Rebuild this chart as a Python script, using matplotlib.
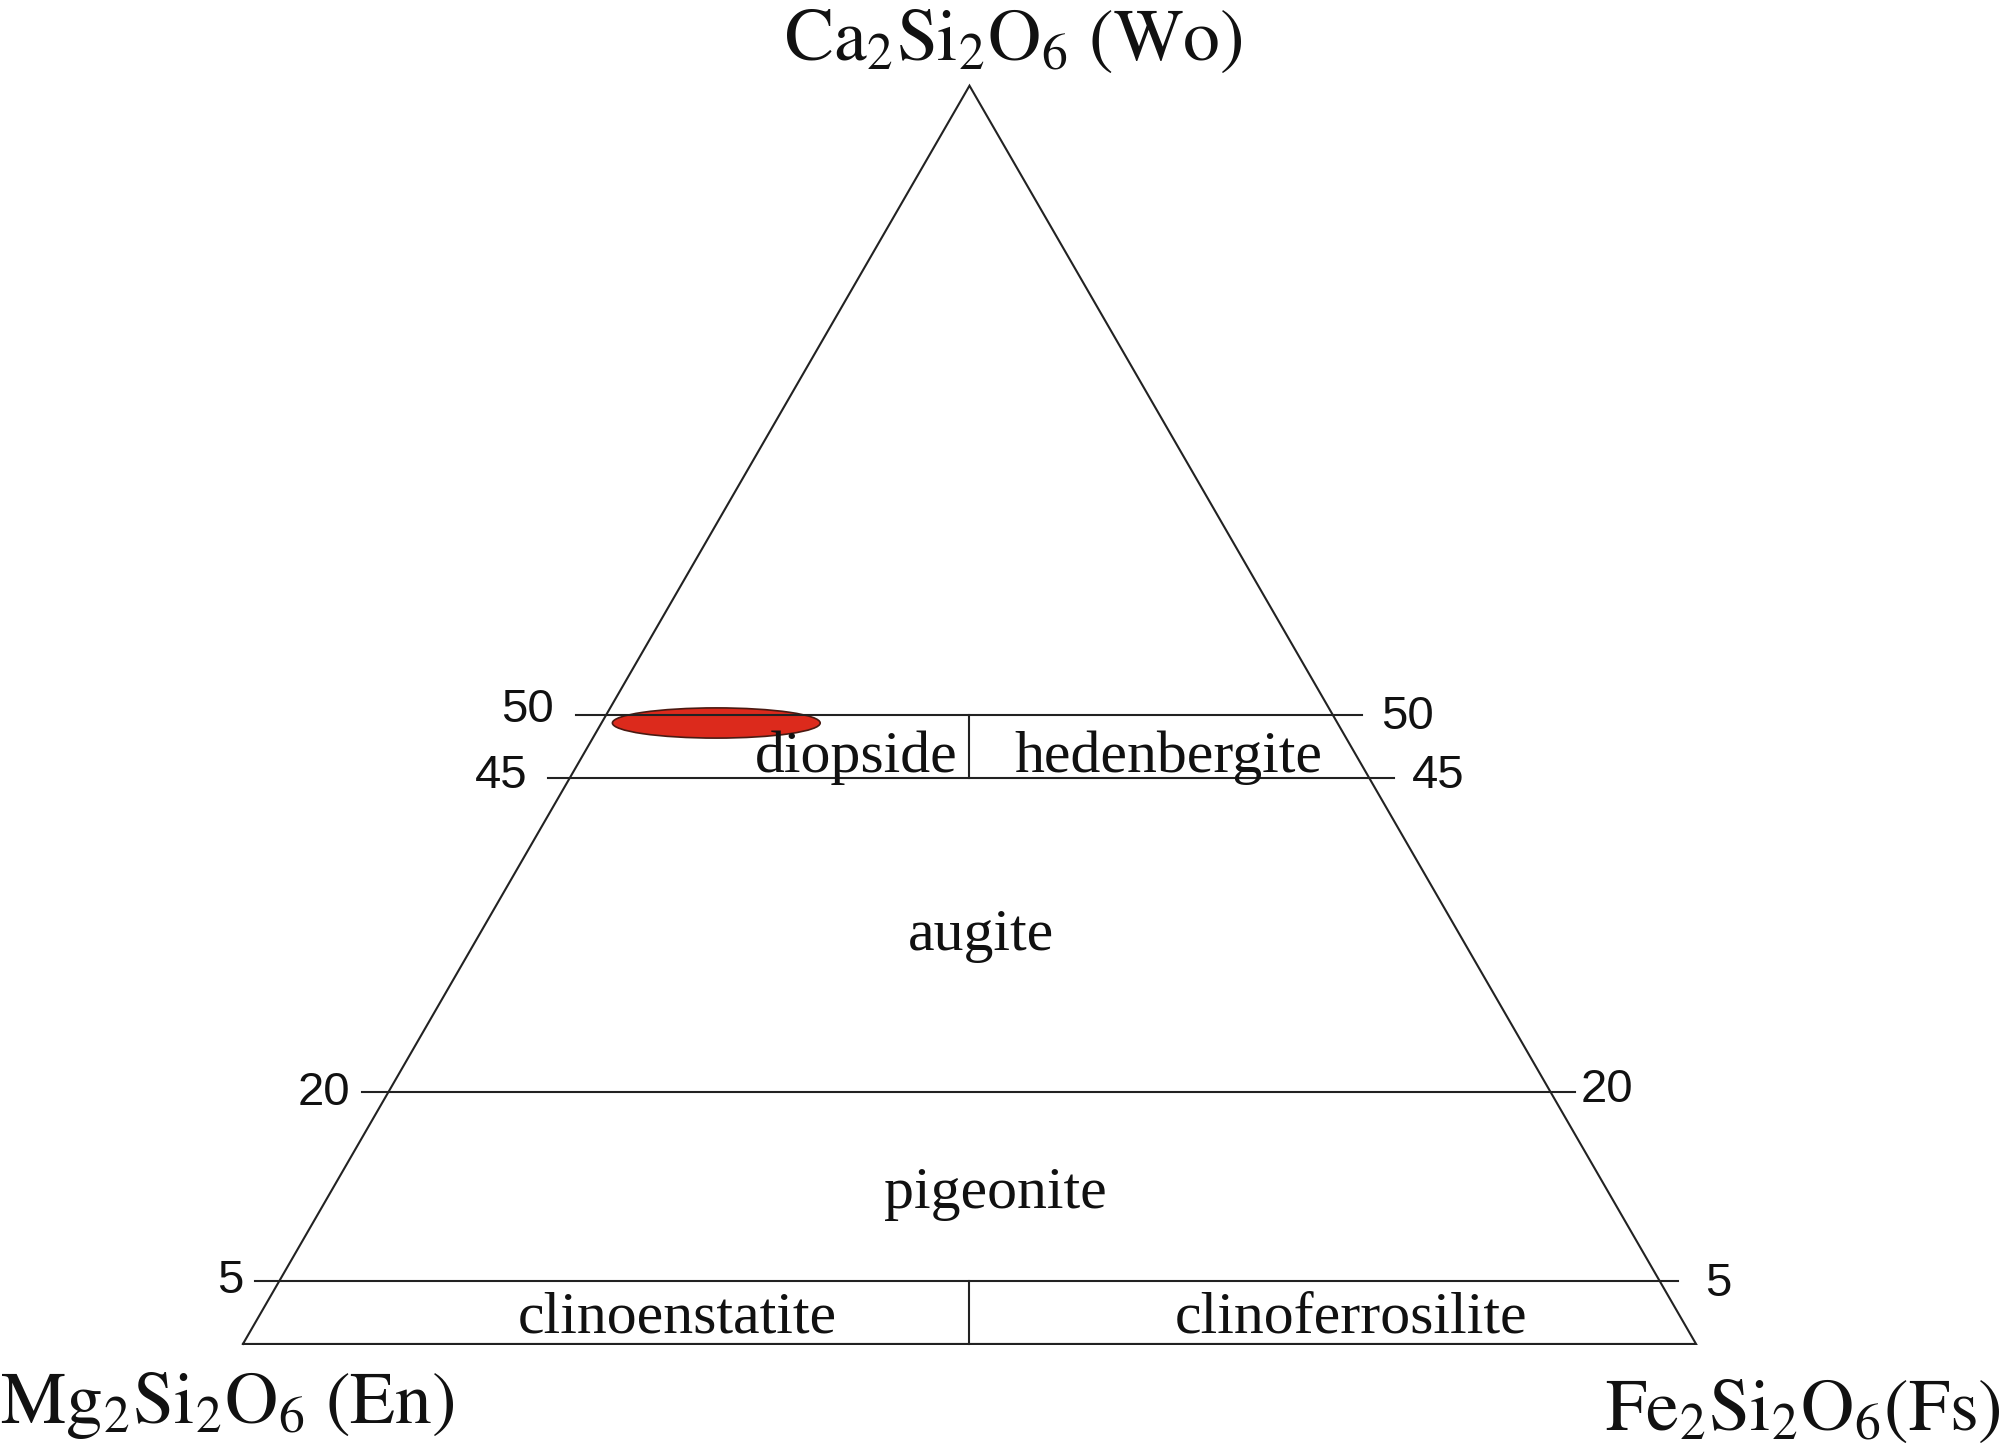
import numpy as np
import matplotlib
matplotlib.use("Agg")
import matplotlib.pyplot as plt
from matplotlib.patches import Ellipse

# ---------------- data ----------------
wo_levels = [50, 45, 20, 5]                 # Wo (%) boundary lines
level_labels = ["50", "45", "20", "5"]
dividers = [(45, 50), (0, 5)]               # Wo ranges of En=Fs dividers
field_names = ["diopside", "hedenbergite", "augite", "pigeonite",
               "clinoenstatite", "clinoferrosilite"]
corner_labels = [r"$\mathrm{Ca_2Si_2O_6\ (Wo)}$",
                 r"$\mathrm{Mg_2Si_2O_6\ (En)}$",
                 r"$\mathrm{Fe_2Si_2O_6(Fs)}$"]
# analysed composition field (ternary): Wo centre, Fs centre, Fs span, Wo span
ell_wo, ell_fs, ell_fs_span, ell_wo_span = 49.35, 7.9, 14.3, 2.4

H = np.sqrt(3) / 2
PX = 1.0 / 1453.0   # data units per pixel

# style: per-level tick extension and label gap (pixels)
ext_left = [30, 22, 26, 24]
ext_right = [29, 25, 24, 18]
gap_left = [22, 20, 12, 12]
gap_right = [19, 18, 6, 27]
dy_left = [5, 2, -1, 0]
dy_right = [-2, 2, 2, -3]


def tern(wo, fs):
    """Wo, Fs in % -> cartesian (En at left, Fs at right, Wo top)."""
    return fs / 100 + wo / 200, wo / 100 * H


plt.rcParams["mathtext.fontset"] = "stix"
fig = plt.figure(figsize=(20.08, 14.49), dpi=100)
ax = fig.add_axes([0, 0, 1, 1])
ax.set_xlim(-0.1672, 1.2147)
ax.set_ylim(-0.0723, 0.925)
ax.axis("off")

lc = "#222222"
lw = 1.5
serif = "Liberation Serif"
sans = "Liberation Sans"

# triangle
tx = [tern(0, 0)[0], tern(0, 100)[0], tern(100, 0)[0], tern(0, 0)[0]]
ty = [tern(0, 0)[1], tern(0, 100)[1], tern(100, 0)[1], tern(0, 0)[1]]
ax.plot(tx, ty, color=lc, lw=lw, solid_joinstyle="miter", zorder=3)

# horizontal boundaries with ticks outside
for i, (wo, lab) in enumerate(zip(wo_levels, level_labels)):
    xl, y = tern(wo, 0)
    xr, _ = tern(wo, 100 - wo)
    x0 = xl - ext_left[i] * PX
    x1 = xr + ext_right[i] * PX
    ax.plot([x0, x1], [y, y], color=lc, lw=lw, zorder=3)
    ax.text(x0 - gap_left[i] * PX, y + dy_left[i] * PX, lab, ha="right",
            va="center", fontsize=34, family=sans, color="#111111")
    ax.text(x1 + gap_right[i] * PX, y + dy_right[i] * PX, lab, ha="left",
            va="center", fontsize=34, family=sans, color="#111111")

# dividers
for w0, w1 in dividers:
    x0, y0 = tern(w0, 50 - w0 / 2)
    x1, y1 = tern(w1, 50 - w1 / 2)
    ax.plot([x0, x1], [y0, y1], color=lc, lw=lw, zorder=3)

# composition ellipse
ex, ey = tern(ell_wo, ell_fs)
ax.add_patch(Ellipse((ex, ey), ell_fs_span / 100, ell_wo_span / 100 * H,
                     facecolor="#dc2a1c", edgecolor="#4a1a12", lw=1.2,
                     zorder=2))

# field names
fs_kw = dict(fontsize=43, family=serif, color="#111111", va="baseline")
ax.text(0.492, 0.394, field_names[0], ha="right", **fs_kw)
ax.text(0.531, 0.394, field_names[1], ha="left", **fs_kw)
ax.text(0.508, 0.271, field_names[2], ha="center", **fs_kw)
ax.text(0.518, 0.0936, field_names[3], ha="center", **fs_kw)
ax.text(0.299, 0.0076, field_names[4], ha="center", **fs_kw)
ax.text(0.7626, 0.0076, field_names[5], ha="center", **fs_kw)

# corner labels
cl_kw = dict(fontsize=53, color="#111111", va="baseline", ha="left")
ax.text(0.3723, 0.8837, corner_labels[0], **cl_kw)
ax.text(-0.1672, -0.0544, corner_labels[1], **cl_kw)
ax.text(0.9374, -0.0592, corner_labels[2], **cl_kw)

fig.savefig("out.png", dpi=100, facecolor="white")
